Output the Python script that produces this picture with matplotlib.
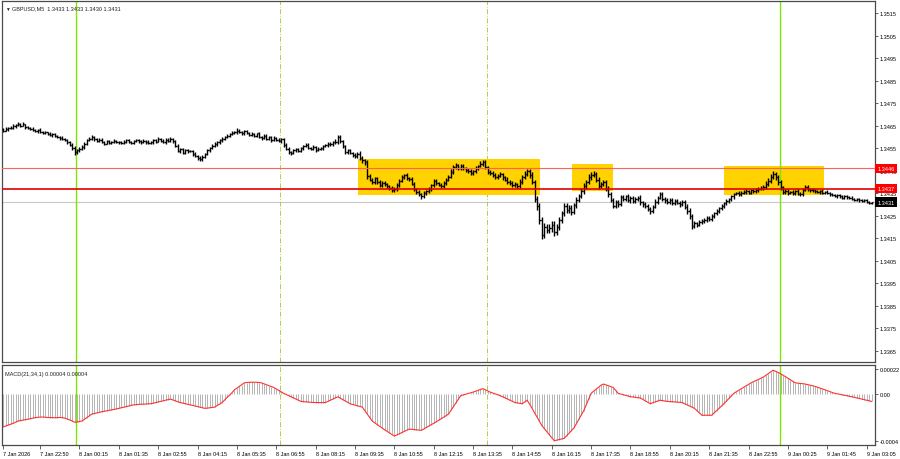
import numpy as np
import matplotlib
matplotlib.use("Agg")
import matplotlib.pyplot as plt
from matplotlib.collections import LineCollection
from matplotlib.patches import Rectangle
import matplotlib.transforms as mtransforms

# ---------------- data ----------------
symbol_title = "GBPUSD,M5  1.3433 1.3433 1.3430 1.3431"
macd_title = "MACD(21,34,1) 0.00004 0.00004"

BASE_PRICE = 1.34      # prices below are in 0.00001 above this base
PRICE_UNIT = 1e-5
MACD_UNIT = 1e-6

first_open = 633
close_pts = [
    628, 635, 641, 638, 648, 652, 657,
    650, 655, 644, 640, 636, 630, 626,
    630, 622, 618, 620, 612, 608, 612,
    605, 600, 596, 590, 585, 577,
    565, 550, 532,
    540, 548, 554,
    570, 585, 592, 599,
    590, 582, 588, 577,
    570, 580, 574, 578, 583, 575, 577,
    572, 578, 585, 579, 574, 581,
    586, 580, 575, 583, 578, 572, 577,
    585, 579, 590, 583, 577, 588, 581, 590, 581,
    560, 537,
    545, 530, 540, 535, 537,
    525, 515, 505, 501,
    512, 525, 540, 550, 560, 568,
    575, 585, 592, 600, 605, 612, 618, 621,
    628, 620, 615, 625, 618, 610, 612,
    605, 615, 600, 595, 605, 592, 599,
    585, 595, 588, 580, 590,
    565, 548, 532,
    528, 540, 545, 537,
    550, 559,
    565, 552, 548, 556, 542, 546,
    550, 558, 562, 570, 566, 575, 577,
    599,
    580, 560, 532,
    540, 528, 520, 515,
    525, 505, 495, 488,
    426,
    410, 399,
    415, 400, 385, 395, 390,
    380, 372, 365, 368,
    385, 405, 421,
    430, 415, 412,
    390, 368,
    355, 345, 337,
    350, 360, 368,
    385, 403,
    395, 388, 381,
    395, 410, 421,
    445, 466,
    475, 462, 470,
    460, 452, 448,
    440, 448,
    460, 470, 480, 488,
    465, 443,
    440, 430, 421,
    428, 434,
    420, 410, 399,
    395, 385, 390, 381,
    400, 420, 435, 448,
    430, 399,
    323,
    292,
    230, 165,
    200, 185,
    195, 210, 177,
    200, 230, 260, 292,
    275, 285, 266,
    295, 320, 337,
    360, 381,
    400, 421,
    430, 434,
    410, 381,
    390, 399,
    370, 345, 320, 292,
    310, 300, 332,
    325, 335, 318, 328, 315, 323,
    330, 310, 300, 292,
    280, 270,
    290, 310, 330, 346,
    325, 318, 310,
    320, 305, 315, 308, 300, 310,
    290, 270, 248, 203,
    215, 210, 222, 226,
    232, 240, 235, 248,
    260, 270, 282, 292,
    305, 315, 323,
    335, 346,
    350, 345, 352, 355,
    360, 352, 362, 359,
    365, 370, 372, 377,
    390, 405, 421, 434,
    420, 399,
    375, 355,
    360, 352, 355,
    350, 358, 348, 346,
    365, 377,
    368, 362, 365, 359,
    355, 360, 352, 355,
    350, 345, 340, 337,
    340, 335, 330, 336, 332,
    328, 325, 320, 322, 318, 315,
    318, 312, 305, 310,
]

up_wick = [
    5, 8, 4, 6, 10, 3, 7, 5, 9, 4, 6, 3, 8, 5, 4, 7, 5, 6, 3, 8,
    4, 6, 5, 3, 7, 4, 5, 6, 8, 10, 6, 5, 9, 7, 4, 6, 8, 5, 4, 7,
    6, 4, 8, 5, 3, 7, 5, 6, 4, 8, 5, 7, 3, 6, 5, 4, 7, 6, 5, 8,
    4, 6, 5, 7, 3, 8, 6, 5, 9, 4, 6, 7, 5, 4, 8, 5, 6, 4, 7, 5,
    8, 6, 5, 7, 4, 6, 8, 5, 7, 6, 4, 8, 5, 6, 7, 9, 5, 6, 4, 7,
    5, 8, 6, 4, 7, 5, 6, 8, 4, 5, 7, 6, 8, 5, 4, 6, 7, 5, 8, 6,
    5, 7, 4, 6, 8, 5, 6, 4, 7, 5, 6, 8, 5, 7, 6, 12, 9, 7, 6, 5,
    6, 8, 5, 7, 6, 10, 12, 8, 10, 9, 7, 8, 6, 9, 7, 8, 6, 7, 9, 8,
    10, 7, 8, 6, 9, 7, 8, 10, 6, 8, 7, 9, 6, 8, 7, 10, 8, 6, 9, 7,
    8, 9, 10, 7, 8, 6, 9, 8, 7, 10, 8, 6, 9, 7, 12, 10, 8, 7, 9, 6,
    8, 7, 9, 6, 8, 10, 7, 9, 8, 6, 12, 9, 14, 10, 8, 12, 10, 14, 16, 12,
    15, 12, 18, 14, 16, 12, 14, 10, 12, 15, 10, 13, 11, 12, 10, 14, 12, 10, 15, 12,
    14, 10, 12, 9, 11, 8, 10, 12, 9, 11, 8, 10, 9, 7, 10, 8, 9, 11, 8, 10,
    7, 9, 8, 10, 9, 12, 8, 11, 9, 7, 10, 8, 9, 7, 8, 6, 9, 8, 10, 12,
    9, 11, 8, 10, 7, 9, 8, 10, 7, 8, 9, 7, 8, 6, 9, 7, 8, 6, 7, 8,
    6, 7, 8, 5, 7, 6, 8, 7, 9, 8, 12, 10, 14, 16, 10, 9, 11, 8, 7, 9,
    6, 8, 7, 9, 6, 8, 10, 7, 6, 8, 5, 7, 6, 8, 5, 7, 6, 5, 7, 6,
    5, 7, 4, 6, 5, 7, 4, 6, 5, 4, 6, 5, 3, 2,
]

down_wick = [
    6, 4, 7, 5, 3, 8, 5, 6, 4, 9, 5, 7, 4, 6, 8, 5, 7, 4, 6, 5,
    7, 5, 4, 8, 6, 5, 7, 4, 9, 12, 8, 6, 5, 7, 6, 4, 5, 7, 6, 4,
    5, 7, 4, 6, 8, 5, 3, 7, 6, 4, 7, 5, 8, 4, 6, 7, 5, 4, 8, 6,
    5, 7, 6, 4, 8, 5, 7, 6, 4, 8, 7, 5, 9, 6, 5, 7, 4, 8, 6, 9,
    10, 7, 6, 5, 8, 6, 4, 7, 5, 8, 6, 5, 7, 4, 6, 8, 5, 7, 6, 4,
    7, 5, 6, 8, 4, 7, 6, 5, 8, 6, 4, 7, 5, 9, 8, 6, 7, 9, 5, 7,
    6, 5, 8, 6, 4, 7, 5, 8, 6, 5, 7, 4, 6, 8, 5, 6, 8, 6, 9, 7,
    8, 6, 9, 7, 8, 6, 10, 12, 14, 8, 10, 9, 8, 7, 10, 8, 9, 7, 12, 8,
    7, 9, 6, 8, 7, 9, 6, 8, 10, 9, 12, 8, 7, 9, 8, 6, 9, 7, 8, 10,
    7, 8, 6, 9, 7, 10, 8, 6, 9, 7, 8, 10, 7, 9, 6, 8, 10, 7, 9, 8,
    7, 9, 8, 10, 7, 9, 11, 8, 10, 9, 8, 10, 8, 9, 12, 10, 14, 16, 18, 18,
    16, 14, 12, 18, 16, 14, 12, 15, 11, 13, 12, 14, 10, 12, 11, 10, 13, 11, 9, 12,
    10, 12, 11, 9, 10, 12, 14, 11, 9, 10, 12, 9, 8, 10, 9, 11, 8, 10, 9, 12,
    10, 8, 11, 12, 9, 8, 10, 7, 9, 11, 8, 10, 7, 9, 8, 10, 9, 12, 11, 14,
    12, 9, 10, 8, 11, 9, 10, 8, 9, 10, 8, 9, 7, 8, 6, 8, 7, 9, 6, 8,
    7, 6, 8, 7, 6, 8, 7, 9, 6, 8, 7, 9, 8, 10, 12, 14, 11, 9, 8, 10,
    8, 7, 9, 6, 8, 7, 6, 8, 7, 6, 8, 5, 7, 6, 8, 6, 7, 5, 6, 8,
    6, 5, 7, 6, 5, 7, 6, 5, 7, 6, 5, 6, 4, 3,
]

macd_pts = [
    -280, -272, -265, -258, -250, -240, -230,
    -226, -222, -218, -214, -210, -205, -200,
    -198, -196, -195, -197, -199, -200, -200,
    -201, -200, -199, -200,
    -205, -212, -220, -230, -240,
    -238, -234, -230,
    -215, -200, -185, -170,
    -165, -160, -155, -150,
    -146, -142, -138, -134, -130, -125, -120,
    -115, -110, -105, -100, -95, -90,
    -88, -86, -85, -84, -83, -81, -80,
    -75, -70, -65, -60, -55, -50, -45, -40,
    -48, -56, -63, -70,
    -75, -80, -85, -90,
    -95, -100, -105, -110, -115, -120,
    -118, -115, -112, -110,
    -95, -82, -70,
    -48, -25, -5, 15, 40,
    55, 70, 85, 100,
    103, 105, 106, 106, 105, 103, 100,
    92, 84, 76, 68, 60,
    48, 35, 22, 10,
    0, -10, -20, -30, -40, -50,
    -60, -62, -64, -66, -68, -69, -70, -70,
    -70, -70, -70,
    -60, -50, -40, -30, -20,
    -32, -44, -56, -68, -80,
    -86, -92, -98, -104, -110,
    -140, -170, -200, -230,
    -245, -260, -275, -290,
    -305, -318, -332, -346, -360,
    -350, -340, -330, -320, -310, -300,
    -302, -304, -306, -308, -310,
    -298, -286, -274, -262, -250,
    -237, -224, -210, -197, -184, -170,
    -138, -106, -74, -42, -10,
    -4, 2, 8, 14, 20,
    28, 36, 43, 50,
    40, 30, 20,
    12, 5, -2, -10,
    -20, -30, -40, -50, -60, -70,
    -73, -77, -80,
    -65, -50,
    -85, -120, -160,
    -195, -232, -270,
    -296, -322, -348, -374, -400,
    -395, -390, -385, -380,
    -358, -336, -313, -290,
    -252, -215, -178, -140,
    -90, -40, 10,
    28, 45, 62, 80, 90,
    83, 75, 68, 60,
    35, 10,
    4, -2, -8, -14, -20,
    -22, -25, -28, -30,
    -42, -55, -68, -80,
    -72, -65, -58, -50,
    -53, -57, -60,
    -62, -63, -65, -66, -68, -70,
    -80, -90, -100, -110, -120,
    -140, -160, -180,
    -180, -180, -180, -180,
    -160, -140, -120, -100, -80,
    -58, -35, -12, 10,
    23, 36, 49, 62, 75, 88, 100,
    110, 120, 130, 140, 150,
    165, 180, 195, 210,
    200, 190, 180,
    167, 153, 140, 127, 113, 100,
    98, 95, 93, 90,
    85, 80, 75, 70,
    63, 55, 48, 40, 33, 25, 18, 10,
    6, 2, -3, -7, -11, -16, -20,
    -25, -30, -35, -40, -45, -50, -55, -60,
]

tick_index = [0, 15, 31, 47, 63, 79, 95, 111, 127, 143, 159, 175, 191,
              207, 223, 239, 255, 271, 287, 303, 319, 335, 351]
tick_labels = ["7 Jan 2026", "7 Jan 22:50", "8 Jan 00:15", "8 Jan 01:35",
               "8 Jan 02:55", "8 Jan 04:15", "8 Jan 05:35", "8 Jan 06:55",
               "8 Jan 08:15", "8 Jan 09:35", "8 Jan 10:55", "8 Jan 12:15",
               "8 Jan 13:35", "8 Jan 14:55", "8 Jan 16:15", "8 Jan 17:35",
               "8 Jan 18:55", "8 Jan 20:15", "8 Jan 21:35", "8 Jan 22:55",
               "9 Jan 00:25", "9 Jan 01:45", "9 Jan 03:05"]

price_ticks = [1.3365, 1.3375, 1.3385, 1.3395, 1.3405, 1.3415, 1.3425,
               1.3435, 1.3445, 1.3455, 1.3465, 1.3475, 1.3485, 1.3495,
               1.3505, 1.3515]
level_upper = 1.3446
level_lower = 1.3437
bid_price = 1.3431
# zones: (start bar, end bar, low price, high price)
zones = [(144.3, 218.3, 1.34341, 1.34501),
         (231.3, 248.0, 1.34359, 1.34478),
         (293.0, 333.7, 1.34341, 1.34470)]
day_separators = [29.6, 315.9]
session_lines = [112.6, 196.7]
macd_ticks = [0.00022, 0.0, -0.0004]
macd_tick_labels = ["0.00022", "0.00", "-0.0004"]

# ---------------- derived OHLC ----------------
n = min(len(close_pts), len(up_wick), len(down_wick), len(macd_pts))
closes = np.array(close_pts[:n], float)
opens = np.concatenate([[first_open], closes[:-1]])
highs = np.maximum(opens, closes) + np.array(up_wick[:n], float)
lows = np.minimum(opens, closes) - np.array(down_wick[:n], float)
to_price = lambda v: BASE_PRICE + v * PRICE_UNIT
O, H, L, C = to_price(opens), to_price(highs), to_price(lows), to_price(closes)
macd = np.array(macd_pts[:n], float) * MACD_UNIT
idx = np.arange(n)

FONT = ["Liberation Sans Narrow", "Liberation Sans", "DejaVu Sans"]
plt.rcParams["font.family"] = FONT
FS = 4.0
FRAME = "#4a4a4a"

W, Hh = 900, 460
fig = plt.figure(figsize=(W / 100, Hh / 100), dpi=100)
fig.patch.set_facecolor("white")

left_px, right_px = 2, 875
ax = fig.add_axes([left_px / W, 1 - 363 / Hh, (right_px - left_px) / W, (363 - 2) / Hh])
ax2 = fig.add_axes([left_px / W, 1 - 446 / Hh, (right_px - left_px) / W, (446 - 366) / Hh])

xlim = (-0.5, 354.4)
for a in (ax, ax2):
    a.set_xlim(*xlim)
    a.set_facecolor("white")
    for s in a.spines.values():
        s.set_color(FRAME)
        s.set_linewidth(0.9)
    a.yaxis.tick_right()
    a.tick_params(axis="y", direction="out", length=2.5, width=0.6, colors=FRAME,
                  labelsize=FS, labelcolor="black", pad=1)

# ---- main price panel ----
ax.set_ylim(1.335998, 1.352033)
ax.set_yticks(price_ticks)
ax.set_yticklabels([f"{p:.4f}" for p in price_ticks])
ax.set_xticks([])

for (x0, x1, p0, p1) in zones:
    ax.add_patch(Rectangle((x0, p0), x1 - x0, p1 - p0, facecolor="#FFD200",
                           edgecolor="none", zorder=1))

ax.axhline(bid_price, color="#C8C8C8", lw=0.8, zorder=0.5)
for xs in session_lines:
    for a in (ax, ax2):
        a.axvline(xs, color="#9ACD32", lw=0.6, ls=(0, (6, 2, 1, 2)), zorder=0.6)
for xs in day_separators:
    for a in (ax, ax2):
        a.axvline(xs, color="#7CE800", lw=1.0, zorder=2)

segs = []
for i in range(n):
    segs.append([(i, L[i]), (i, H[i])])
    segs.append([(i - 0.5, O[i]), (i, O[i])])
    segs.append([(i, C[i]), (i + 0.5, C[i])])
ax.add_collection(LineCollection(segs, colors="black", linewidths=1.0, zorder=3))

ax.axhline(level_upper, color="#FF6060", lw=0.8, zorder=4)
ax.axhline(level_lower, color="#E00000", lw=1.2, zorder=4)

trans = mtransforms.blended_transform_factory(ax.transAxes, ax.transData)
for price, bg in ((level_upper, "#FF0000"), (level_lower, "#FF0000"), (bid_price, "black")):
    ax.text(1.003, price, f"{price:.4f}", transform=trans, ha="left", va="center",
            fontsize=FS, color="white", clip_on=False, zorder=10,
            bbox=dict(boxstyle="square,pad=0.4", fc=bg, ec="none"))

ax.text(0.004, 0.985, "\u25BC", transform=ax.transAxes, fontsize=3.4, ha="left",
        va="top", color="#222222")
ax.text(0.012, 0.988, symbol_title, transform=ax.transAxes, fontsize=FS, ha="left",
        va="top", color="#222222")

# ---- MACD panel ----
ax2.set_ylim(-0.000437, 0.0002546)
ax2.vlines(idx, 0, macd, colors="#B4B4B4", lw=0.7, zorder=1)
ax2.plot(idx, macd, color="#FF3030", lw=0.8, zorder=3)
ax2.set_yticks(macd_ticks)
ax2.set_yticklabels(macd_tick_labels)
ax2.text(0.004, 0.93, macd_title, transform=ax2.transAxes, fontsize=FS, ha="left",
         va="top", color="#222222")

ax2.set_xticks(tick_index)
ax2.set_xticklabels(tick_labels)
ax2.tick_params(axis="x", direction="out", length=3, width=0.6, colors=FRAME,
                labelsize=FS, labelcolor="black", pad=1)
for lab in ax2.get_xticklabels():
    lab.set_horizontalalignment("left")

fig.savefig("out.png", dpi=100, facecolor="white")
